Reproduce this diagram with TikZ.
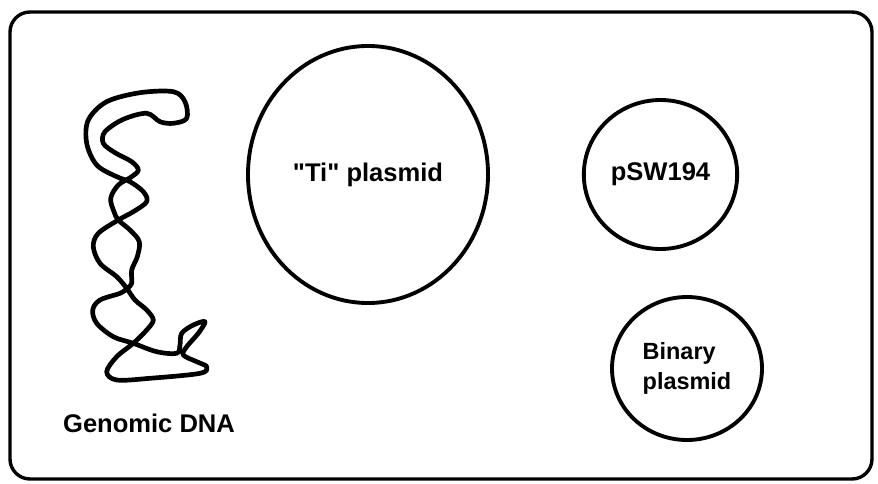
\documentclass[tikz,border=0pt]{standalone}
\usepackage{fontspec}
\setmainfont{Liberation Sans}[Ligatures=TeXReset]
\usetikzlibrary{shapes.geometric}
\begin{document}
\begin{tikzpicture}[x=0.03cm,y=-0.03cm,
  frame/.style={line width=2.9pt,rounded corners=0.6cm},
  plasmid/.style={draw,ellipse,line width=3.3pt,inner sep=0pt},
  label/.style={font=\bfseries\fontsize{21.8}{26}\selectfont},
  strand/.style={line width=4pt,line join=round,line cap=round}]
\useasboundingbox (0,0) rectangle (878,484);
% outer panel
\draw[frame] (10,12) rectangle (872,479);
% plasmids
\node[plasmid,minimum width=7.2cm,minimum height=7.71cm,label] (ti) at (368,174.5) {\char34 Ti\char34{} plasmid};
\node[plasmid,minimum width=4.6cm,minimum height=4.47cm,label] (psw) at (660.5,174.5) {pSW194};
\node[plasmid,minimum width=4.5cm,minimum height=4.29cm,
  font=\bfseries\fontsize{20}{25.5}\selectfont,align=left] (bin) at (687,368.5) {Binary\\plasmid};
% genomic DNA as a tangled closed strand
\draw[strand] plot[smooth cycle,tension=0.55] coordinates {
  (116.7,176.7) (96.7,165) (86.7,143.3) (88.3,120) (106.7,101.7) (140,92.7)
  (173.3,91.7) (185,101.7) (186.7,118.3) (173.3,123.3) (160,121.7) (146.7,113.3)
  (123.3,119.3) (105,131.7) (103.3,143.3) (115,152.7) (131.7,161.7) (138.3,170)
  (131.7,176.7) (118.3,185) (110.7,198.3) (114,211.7) (118.3,220) (130,230)
  (139.3,241.7) (137.3,256.7) (131.7,270) (131.7,283.3) (127.3,288.3) (120,293.3)
  (100,300) (92.7,310) (96.7,323.3) (113.3,336.7) (133.3,343.3) (156.7,351.7)
  (176.7,353.3) (180,345) (181.7,333.3) (193.3,325) (205,321.7) (198.3,333.3)
  (186.7,346.7) (183.3,355) (196.7,361.7) (206.7,366.7) (200,373.3) (150,378.3)
  (116.7,380) (106.7,371.7) (116.7,356.7) (133.3,343.3) (146.7,330) (153.3,320)
  (146.7,310) (135,300) (126.7,288.3) (116.7,276.7) (100,263.3) (93.3,246.7)
  (98.3,233.3) (118.3,220) (133.3,211.7) (146.7,201.7) (143.3,191.7) (130,181.7)};
\node[label] (dna) at (149,423) {Genomic DNA};
\end{tikzpicture}
\end{document}
